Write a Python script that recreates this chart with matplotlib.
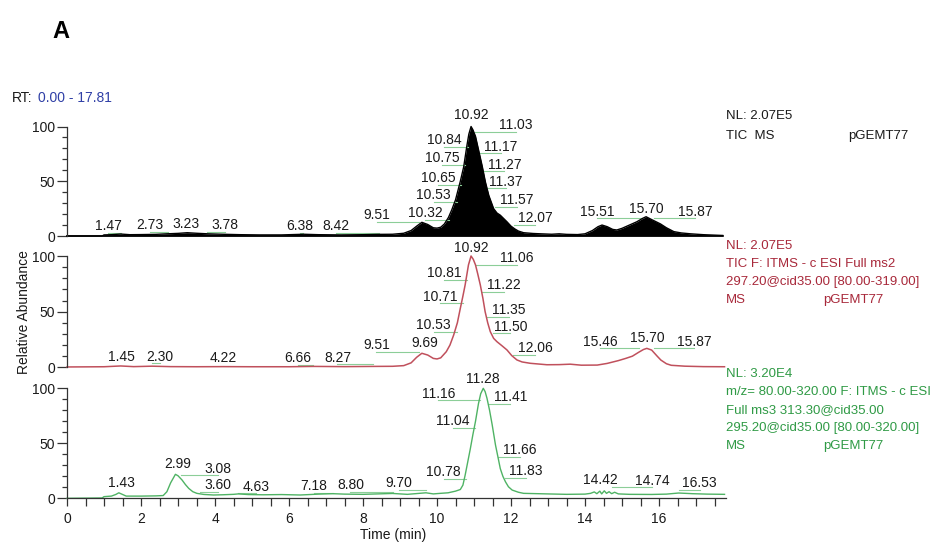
import matplotlib
matplotlib.use("Agg")
import matplotlib.pyplot as plt
from matplotlib.ticker import MultipleLocator, FixedLocator

plt.rcParams['font.family'] = ['Liberation Sans', 'DejaVu Sans']

# ---- chromatogram traces (retention time in min, relative abundance in %) ----
tic_ms_time = [0.0, 0.95, 1.0, 1.2, 1.45, 1.7, 2.0, 2.4, 2.7, 3.0, 3.25, 3.5, 3.8, 4.2,
               4.7, 5.2, 5.8, 6.4, 6.8, 7.4, 8.0, 8.4, 8.8, 9.1, 9.3, 9.45, 9.59, 9.75,
               9.9, 10.0, 10.1, 10.2, 10.31, 10.4, 10.5, 10.63, 10.72, 10.81, 10.86,
               10.92, 10.97, 11.04, 11.12, 11.22, 11.31, 11.4, 11.53, 11.62, 11.71,
               11.8, 11.89, 12.0, 12.1, 12.2, 12.34, 12.6, 12.8, 13.1, 13.3, 13.5,
               13.8, 14.0, 14.2, 14.35, 14.46, 14.6, 14.75, 14.86, 15.0, 15.2, 15.4,
               15.55, 15.65, 15.8, 16.04, 16.2, 16.4, 16.6, 16.85, 17.2, 17.5, 17.72]
tic_ms_abund = [0.0, 0.0, 1.0, 1.2, 1.8, 1.2, 1.3, 1.5, 2.0, 2.4, 3.0, 2.5, 2.0, 1.6,
                1.2, 1.0, 1.0, 1.6, 1.2, 1.0, 1.2, 1.5, 1.6, 2.5, 5.0, 9.0, 12.5, 10.5,
                7.5, 7.2, 8.0, 11.0, 17.0, 24.0, 33.0, 50.0, 63.0, 83.0, 93.0,
                100.0, 97.0, 91.0, 79.0, 64.0, 49.0, 37.0, 25.0, 21.0, 19.0,
                16.0, 13.0, 9.0, 6.5, 4.5, 3.0, 2.3, 2.0, 1.6, 2.0, 1.5,
                1.3, 2.0, 5.0, 8.5, 10.0, 8.5, 6.0, 5.5, 7.0, 10.0, 13.0,
                16.0, 17.6, 15.0, 11.0, 7.5, 4.0, 2.8, 2.0, 1.2, 0.8, 0.5]

ms2_time = [0.0, 1.0, 1.45, 1.8, 2.3, 2.8, 3.5, 4.2, 5.0, 6.0, 6.66, 7.5, 8.27, 8.8,
            9.1, 9.3, 9.45, 9.59, 9.75, 9.9, 10.0, 10.1, 10.25, 10.35, 10.45, 10.55,
            10.63, 10.7, 10.76, 10.85, 10.92, 10.98, 11.04, 11.1, 11.17, 11.24, 11.3,
            11.37, 11.44, 11.53, 11.62, 11.75, 11.89, 12.02, 12.16, 12.3, 12.52,
            12.97, 13.3, 13.6, 13.9, 14.33, 14.6, 14.9, 15.1, 15.28, 15.45, 15.58,
            15.67, 15.8, 15.95, 16.05, 16.2, 16.33, 16.7, 17.2, 17.77]
ms2_abund = [0.3, 0.5, 1.2, 0.6, 1.0, 0.6, 0.5, 0.6, 0.5, 0.5, 0.8, 0.6, 0.8, 0.9,
             1.5, 4.0, 9.0, 12.6, 11.0, 8.0, 7.5, 8.5, 14.0, 20.0, 29.0, 40.0,
             53.0, 64.0, 74.0, 92.0, 100.0, 97.0, 92.0, 84.0, 74.0, 62.0, 50.0,
             40.0, 32.0, 26.0, 23.0, 19.5, 15.6, 10.5, 6.6, 4.8, 3.6,
             2.3, 2.4, 2.8, 1.9, 2.0, 3.5, 6.0, 8.0, 10.0, 13.5, 16.0,
             17.0, 15.5, 10.0, 6.5, 3.2, 1.8, 1.0, 0.6, 0.5]

ms3_time = [0.0, 0.95, 1.0, 1.2, 1.32, 1.4, 1.48, 1.6, 2.0, 2.4, 2.6, 2.7, 2.8, 2.93,
            3.0, 3.11, 3.2, 3.29, 3.4, 3.51, 3.7, 3.96, 4.2, 4.5, 4.63, 4.9, 5.3,
            5.8, 6.3, 6.8, 7.18, 7.5, 8.0, 8.4, 8.8, 9.2, 9.7, 9.9, 10.09, 10.3,
            10.5, 10.63, 10.7, 10.76, 10.83, 10.9, 10.97, 11.04, 11.12, 11.18,
            11.25, 11.3, 11.35, 11.42, 11.49, 11.58, 11.65, 11.71, 11.78, 11.85,
            11.93, 12.03, 12.2, 12.34, 12.97, 13.5, 14.0, 14.15, 14.25, 14.32,
            14.4, 14.45, 14.52, 14.58, 14.65, 14.72, 14.8, 14.9, 15.2, 15.8, 16.2,
            16.53, 16.9, 17.3, 17.77]
ms3_abund = [0.0, 0.3, 1.5, 2.0, 3.5, 5.0, 3.8, 2.0, 2.0, 2.2, 2.5, 6.0, 14.0, 21.8,
             20.5, 16.6, 12.5, 9.0, 6.0, 4.5, 3.5, 3.0, 3.2, 3.6, 4.0, 3.4, 3.2,
             3.4, 3.0, 3.8, 4.2, 3.8, 3.6, 4.0, 4.4, 3.6, 5.0, 4.0, 4.5, 5.0,
             6.5, 8.0, 12.0, 21.0, 33.0, 45.0, 58.0, 70.0, 86.0, 95.0,
             100.0, 97.0, 91.0, 80.0, 67.0, 48.5, 37.0, 27.0, 20.0, 15.0,
             10.5, 7.5, 5.5, 4.5, 4.0, 3.6, 3.8, 4.5, 5.8, 4.2,
             6.5, 4.0, 6.8, 4.5, 6.0, 4.2, 5.5, 4.0, 3.6, 3.5, 3.8,
             4.8, 4.2, 3.8, 3.6]

# ---- peak annotations: retention-time text and where the text sits ----
tic_ms_peaks = ["1.47", "2.73", "3.23", "3.78", "6.38", "8.42", "9.51", "10.32",
                "10.53", "10.65", "10.75", "10.84", "10.92", "11.03", "11.17",
                "11.27", "11.37", "11.57", "12.07", "15.51", "15.70", "15.87"]
tic_ms_label_x = [1.12, 2.23, 3.22, 4.26, 6.29, 7.28, 8.38, 9.68, 9.91, 10.04,
                  10.14, 10.2, 10.92, 12.14, 11.73, 11.82, 11.87, 12.16, 12.66,
                  14.32, 15.66, 16.98]
tic_ms_label_y = [9, 10, 11, 10, 9, 9, 19, 20.7, 37.4, 52.7, 71, 87.7, 110.5,
                  101.4, 81.5, 65, 49.6, 32.9, 16.2, 22, 25, 22]

ms2_peaks = ["1.45", "2.30", "4.22", "6.66", "8.27", "9.51", "9.69", "10.53",
             "10.71", "10.81", "10.92", "11.06", "11.22", "11.35", "11.50",
             "12.06", "15.46", "15.70", "15.87"]
ms2_label_x = [1.46, 2.5, 4.22, 6.23, 7.31, 8.36, 9.66, 9.91, 10.09, 10.2, 10.92,
               12.16, 11.82, 11.94, 11.98, 12.66, 14.41, 15.67, 16.95]
ms2_label_y = [9.6, 9.6, 8, 8, 8.7, 20, 21.6, 38, 63.6, 84.7, 107, 98, 74, 51.6,
               36.6, 17, 23, 26, 23]

ms3_peaks = ["1.43", "2.99", "3.08", "3.60", "4.63", "7.18", "8.80", "9.70",
             "10.78", "11.04", "11.16", "11.28", "11.41", "11.66", "11.83",
             "14.42", "14.74", "16.53"]
ms3_label_x = [1.46, 2.99, 4.07, 4.07, 5.12, 6.67, 7.66, 8.96, 10.18, 10.43,
               10.04, 11.25, 11.98, 12.23, 12.41, 14.41, 15.81, 17.1]
ms3_label_y = [13.6, 31, 27, 12, 10.5, 11, 12, 13.6, 24, 70, 95, 108.5, 92, 44,
               24.8, 17, 16, 13.6]

# ---- header text for each trace ----
tic_ms_header = ["NL: 2.07E5", "TIC  MS"]
ms2_header = ["NL: 2.07E5", "TIC F: ITMS - c ESI Full ms2",
              "297.20@cid35.00 [80.00-319.00]", "MS"]
ms3_header = ["NL: 3.20E4", "m/z= 80.00-320.00 F: ITMS - c ESI",
              "Full ms3 313.30@cid35.00", "295.20@cid35.00 [80.00-320.00]", "MS"]
sample_name = "pGEMT77"
rt_range = (0.00, 17.81)

W, H = 951, 543
fig = plt.figure(figsize=(W / 100, H / 100), dpi=100)
fig.patch.set_facecolor("white")

LEADER = "#8cce98"
TXT = "#1a1a1a"
RED = "#a8283a"
RED_LINE = "#c0505c"
GREEN = "#2f9a45"
GREEN_LINE = "#4fb364"
BLUE = "#2f3fa6"
FS = 10


def fx(px):
    return px / W


def fy(py):
    return 1 - py / H


x0_px, x1_px = 67, 726
panels = [
    (236.0, 126.5),   # top panel: y of 0 and of 100 in pixels
    (367.3, 256.0),
    (498.3, 388.3),
]
axes = []
for zero_py, hundred_py in panels:
    ax = fig.add_axes([fx(x0_px), fy(zero_py), (x1_px - x0_px) / W,
                       (zero_py - hundred_py) / H])
    ax.set_xlim(*rt_range)
    ax.set_ylim(0, 100)
    ax.patch.set_alpha(0)
    for s in ("top", "right"):
        ax.spines[s].set_visible(False)
    ax.spines["left"].set_color("#333333")
    ax.spines["left"].set_linewidth(0.9)
    ax.yaxis.set_major_locator(FixedLocator([0, 50, 100]))
    ax.yaxis.set_minor_locator(MultipleLocator(10))
    ax.tick_params(axis="y", which="major", length=7, width=0.9, color="#333333",
                   labelsize=10, pad=1.5, labelcolor=TXT)
    ax.tick_params(axis="y", which="minor", length=3.8, width=0.9, color="#333333")
    axes.append(ax)

ax_top, ax_mid, ax_bot = axes
for ax in (ax_top, ax_mid):
    ax.spines["bottom"].set_visible(False)
    ax.tick_params(axis="x", which="both", bottom=False, labelbottom=False)

ax_bot.spines["bottom"].set_color("#333333")
ax_bot.spines["bottom"].set_linewidth(0.9)
ax_bot.xaxis.set_major_locator(MultipleLocator(2))
ax_bot.xaxis.set_minor_locator(MultipleLocator(0.5))
ax_bot.tick_params(axis="x", which="both", length=5.8, width=0.9, color="#333333",
                   labelsize=10, pad=4, labelcolor=TXT)

# traces
ax_top.fill_between(tic_ms_time, 0, tic_ms_abund, color="black", lw=0, clip_on=False)
ax_top.plot(tic_ms_time, tic_ms_abund, color="black", lw=1.0, clip_on=False)
ax_top.plot([0, tic_ms_time[-1]], [0, 0], color="black", lw=1.2, clip_on=False)
ax_mid.plot(ms2_time, ms2_abund, color=RED_LINE, lw=1.1, clip_on=False)
ax_bot.plot(ms3_time, ms3_abund, color=GREEN_LINE, lw=1.0, clip_on=False)


def annotate(ax, peaks, lx, ly):
    for text, tx, ty in zip(peaks, lx, ly):
        rt = float(text)
        yl = ty - 6
        if abs(rt - tx) > 0.08:
            ax.plot([rt, tx], [yl, yl], color=LEADER, lw=0.8, clip_on=False,
                    zorder=1)
        ax.text(tx, ty, text, ha="center", va="center", fontsize=FS, color=TXT,
                clip_on=False, zorder=3)


annotate(ax_top, tic_ms_peaks, tic_ms_label_x, tic_ms_label_y)
annotate(ax_mid, ms2_peaks, ms2_label_x, ms2_label_y)
annotate(ax_bot, ms3_peaks, ms3_label_x, ms3_label_y)

# header blocks to the right of each trace
hx = 725.5
HFS = 9.5
fig.text(fx(hx), fy(116), tic_ms_header[0], fontsize=HFS, color=TXT, va="center")
fig.text(fx(hx), fy(136), tic_ms_header[1], fontsize=HFS, color=TXT, va="center")
fig.text(fx(848), fy(136), sample_name, fontsize=HFS, color=TXT, va="center")

for i, line in enumerate(ms2_header):
    fig.text(fx(hx), fy(246 + 18 * i), line, fontsize=HFS, color=RED, va="center")
fig.text(fx(823), fy(246 + 18 * 3), sample_name, fontsize=HFS, color=RED, va="center")

for i, line in enumerate(ms3_header):
    fig.text(fx(hx), fy(374 + 18 * i), line, fontsize=HFS, color=GREEN, va="center")
fig.text(fx(823), fy(374 + 18 * 4), sample_name, fontsize=HFS, color=GREEN, va="center")

# RT range, axis titles, panel letter
fig.text(fx(12), fy(98), "RT:", fontsize=10, color=TXT, va="center")
fig.text(fx(38), fy(98), f"{rt_range[0]:.2f} - {rt_range[1]:.2f}", fontsize=10,
         color=BLUE, va="center")
fig.text(fx(24), fy(312), "Relative Abundance", rotation=90, fontsize=10,
         color=TXT, ha="center", va="center")
fig.text(fx(393), fy(535), "Time (min)", fontsize=10, color=TXT, ha="center",
         va="center")
fig.text(fx(61), fy(31), "A", fontsize=17, fontweight="bold", color="black",
         ha="center", va="center")

fig.savefig("out.png", dpi=100)
